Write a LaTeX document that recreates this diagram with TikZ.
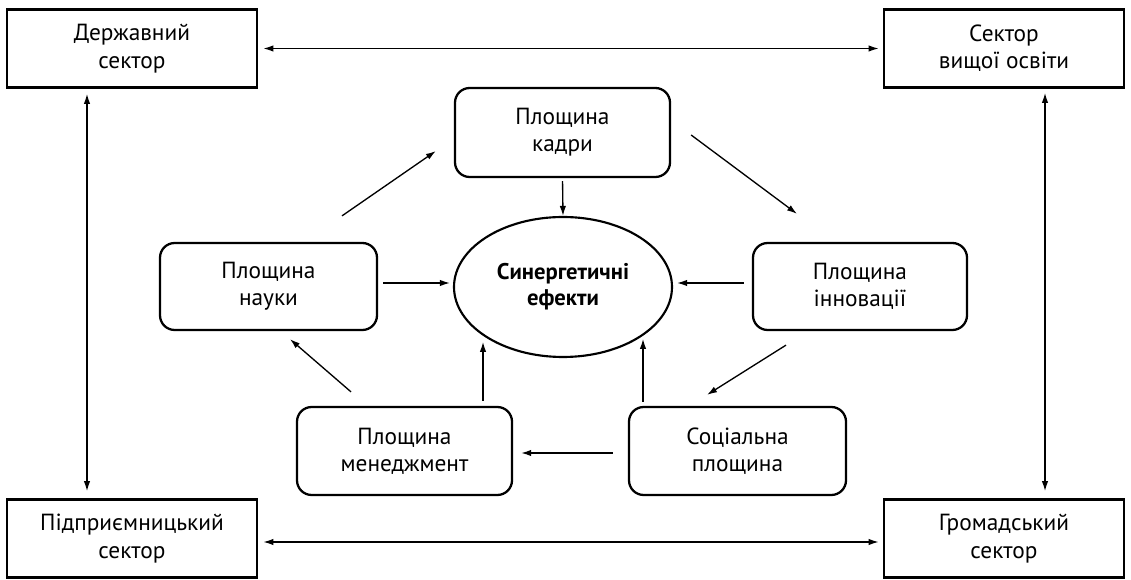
\documentclass[tikz,border=0pt]{standalone}
\usepackage{fontspec}
\setmainfont{PT Sans}
\usetikzlibrary{arrows.meta,shapes.geometric}
\begin{document}
\begin{tikzpicture}[x=0.75pt,y=-0.75pt,
  sector/.style={draw, line width=2pt, rectangle, minimum height=58.5pt, align=center, inner sep=2pt, font=\fontsize{17.5}{20.5}\selectfont},
  plane/.style={draw, line width=1.7pt, rounded corners=11pt, align=center, inner sep=2pt, font=\fontsize{17.5}{20.5}\selectfont},
  effect/.style={draw, line width=1.6pt, ellipse, minimum width=163.5pt, minimum height=105pt, inner sep=0pt, align=center, font=\fontsize{17}{19.5}\selectfont\bfseries},
  arr/.style={line width=1pt, -{Latex[length=7.5pt,width=4.8pt]}},
  darr/.style={line width=1pt, {Latex[length=7.5pt,width=4.8pt]}-{Latex[length=7.5pt,width=4.8pt]}}
]
\useasboundingbox (0,0) rectangle (1131,580);
% outer sectors
\node[sector, minimum width=187.5pt] (ds) at (132,48.5) {Державний\\сектор};
\node[sector, minimum width=180pt] (svo) at (1004,48.5) {Сектор\\вищої освіти};
\node[sector, minimum width=187.5pt] (ps) at (132,538.5) {Підприємницький\\сектор};
\node[sector, minimum width=180pt] (gs) at (1004,538.5) {Громадський\\сектор};
% planes
\node[plane, minimum width=161.25pt, minimum height=66.75pt] (kadry) at (562.5,132.5) {Площина\\кадри};
\node[plane, minimum width=162.75pt, minimum height=65.25pt] (nauky) at (268.5,286.5) {Площина\\науки};
\node[plane, minimum width=160.5pt, minimum height=65.25pt] (innov) at (860,286.5) {Площина\\інновації};
\node[plane, minimum width=161.25pt, minimum height=66pt] (mgmt) at (404.5,451) {Площина\\менеджмент};
\node[plane, minimum width=162.75pt, minimum height=66pt] (soc) at (737.5,451) {Соціальна\\площина};
\node[effect] (ell) at (563,287) {Синергетичні\\ефекти};
% outer connectors
\draw[darr, shorten <=5*0.75pt, shorten >=4*0.75pt] (ds.east) -- (svo.west);
\draw[darr, shorten <=5*0.75pt, shorten >=4*0.75pt] ([shift={(0,3.5)}]ps.east) -- ([shift={(0,3.5)}]gs.west);
\draw[darr] ([shift={(-45,5)}]ds.south) -- ([shift={(-45,-7)}]ps.north);
\draw[darr] ([shift={(41,4)}]svo.south) -- ([shift={(41,-7)}]gs.north);
% to effects
\draw[arr, shorten <=3*0.75pt] (kadry.south) -- (ell.north);
\draw[arr] ([shift={(5,-3.5)}]nauky.east) -- ([shift={(-3,-4)}]ell.west);
\draw[arr] ([shift={(-8,-3.5)}]innov.west) -- ([shift={(4,-4)}]ell.east);
\draw[arr] ([shift={(78.5,-5)}]mgmt.north) -- ([shift={(78.5,-64)}]mgmt.north);
\draw[arr] ([shift={(-94.5,-4)}]soc.north) -- ([shift={(-94.5,-67)}]soc.north);
% cycle
\draw[arr] ([shift={(-15,2)}]soc.west) -- ([shift={(8,2)}]mgmt.east);
\draw[arr] ([shift={(-53.5,-14)}]mgmt.north) -- ([shift={(21.5,8)}]nauky.south);
\draw[arr] ([shift={(73.5,-26)}]nauky.north) -- ([shift={(-18,18.5)}]kadry.west);
\draw[arr] ([shift={(20,2.5)}]kadry.east) -- ([shift={(-63,-28)}]innov.north);
\draw[arr] ([shift={(-74,14)}]innov.south) -- ([shift={(-30.5,-11)}]soc.north);
\end{tikzpicture}
\end{document}
